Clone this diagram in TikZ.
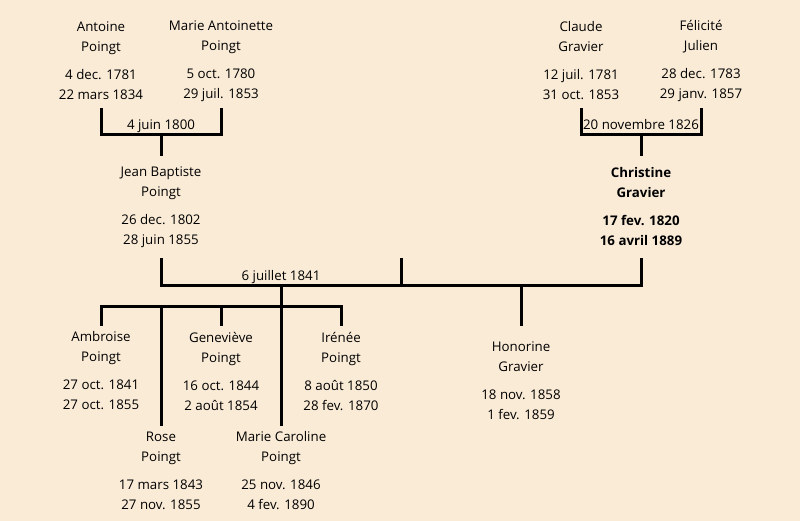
\documentclass[tikz,border=0pt]{standalone}
\usepackage{fontspec}
\setmainfont{Open Sans}
\usepackage{xcolor}
\usepackage{tikz}
\definecolor{antique}{HTML}{FAEBD7}
\tikzset{
    person/.style={align=center, inner sep=0pt, font=\fontsize{13.3}{20}\selectfont},
    wed/.style={inner sep=0pt, anchor=base, font=\fontsize{13.3}{20}\selectfont},
    tie/.style={line width=3pt}}

\begin{document}
\begin{tikzpicture}[x=1pt, y=-1pt]

                    \useasboundingbox (0,0) rectangle (800,521);
                    \fill[antique] (0,0) rectangle (800,521);

                    % parents
                    \node[person, minimum height=94pt] (A) at (101,61) {Antoine\\Poingt\\[8pt]4 dec. 1781\\22 mars 1834};
                    \node[person, minimum height=94pt] (MA) at (221,61) {Marie Antoinette\\Poingt\\[8pt]5 oct. 1780\\29 juil. 1853};
                    \node[person, minimum height=94pt] (CG) at (581,61) {Claude\\Gravier\\[8pt]12 juil. 1781\\31 oct. 1853};
                    \node[person, minimum height=94pt] (FJ) at (701,61) {Félicité\\Julien\\[8pt]28 dec. 1783\\29 janv. 1857};

                    % couple
                    \node[person, minimum height=102pt] (JB) at (161,207) {Jean Baptiste\\Poingt\\[8pt]26 dec. 1802\\28 juin 1855};
                    \node[person, minimum height=102pt, font=\fontsize{13.3}{20}\selectfont\bfseries] (CH) at (641,207) {Christine\\Gravier\\[8pt]17 fev. 1820\\16 avril 1889};

                    % children
                    \node[person, minimum height=90pt] (AM) at (101,371) {Ambroise\\Poingt\\[8pt]27 oct. 1841\\27 oct. 1855};
                    \node[person, minimum height=90pt] (RO) at (161,471) {Rose\\Poingt\\[8pt]17 mars 1843\\27 nov. 1855};
                    \node[person, minimum height=90pt] (GE) at (221,371) {Geneviève\\Poingt\\[8pt]16 oct. 1844\\2 août 1854};
                    \node[person, minimum height=90pt] (MC) at (281,471) {Marie Caroline\\Poingt\\[8pt]25 nov. 1846\\4 fev. 1890};
                    \node[person, minimum height=90pt] (IR) at (341,371) {Irénée\\Poingt\\[8pt]8 août 1850\\28 fev. 1870};
                    \node[person, minimum height=110pt] (HO) at (521,381) {Honorine\\Gravier\\[8pt]18 nov. 1858\\1 fev. 1859};

                    \coordinate (M1) at (161,135);
                    \coordinate (M2) at (641,135);
                    \coordinate (M3) at (281,285);
                    \coordinate (X) at (401,258);
                    \coordinate (K) at (281,306);

                    \draw[tie] (A.south) |- (M1) -| (MA.south);
                    \draw[tie] (M1) -- (JB.north);
                    \node[wed] (W1) at ([yshift=5pt]M1) {4 juin 1800};

                    \draw[tie] (CG.south) |- (M2) -| (FJ.south);
                    \draw[tie] (M2) -- (CH.north);
                    \node[wed] (W2) at ([yshift=5pt]M2) {20 novembre 1826};

                    \draw[tie] (JB.south) |- (M3) -| (CH.south);
                    \draw[tie] (X) -- (X |- M3);
                    \node[wed] (W3) at ([yshift=5pt]M3) {6 juillet 1841};

                    \draw[tie] (M3) -- (MC.north);
                    \draw[tie] (AM.north) |- (K) -| (IR.north);
                    \draw[tie] (RO.north) -- (RO.north |- K);
                    \draw[tie] (GE.north) -- (GE.north |- K);
                    \draw[tie] (HO.north) -- (HO.north |- M3);

                \end{tikzpicture}
\end{document}
